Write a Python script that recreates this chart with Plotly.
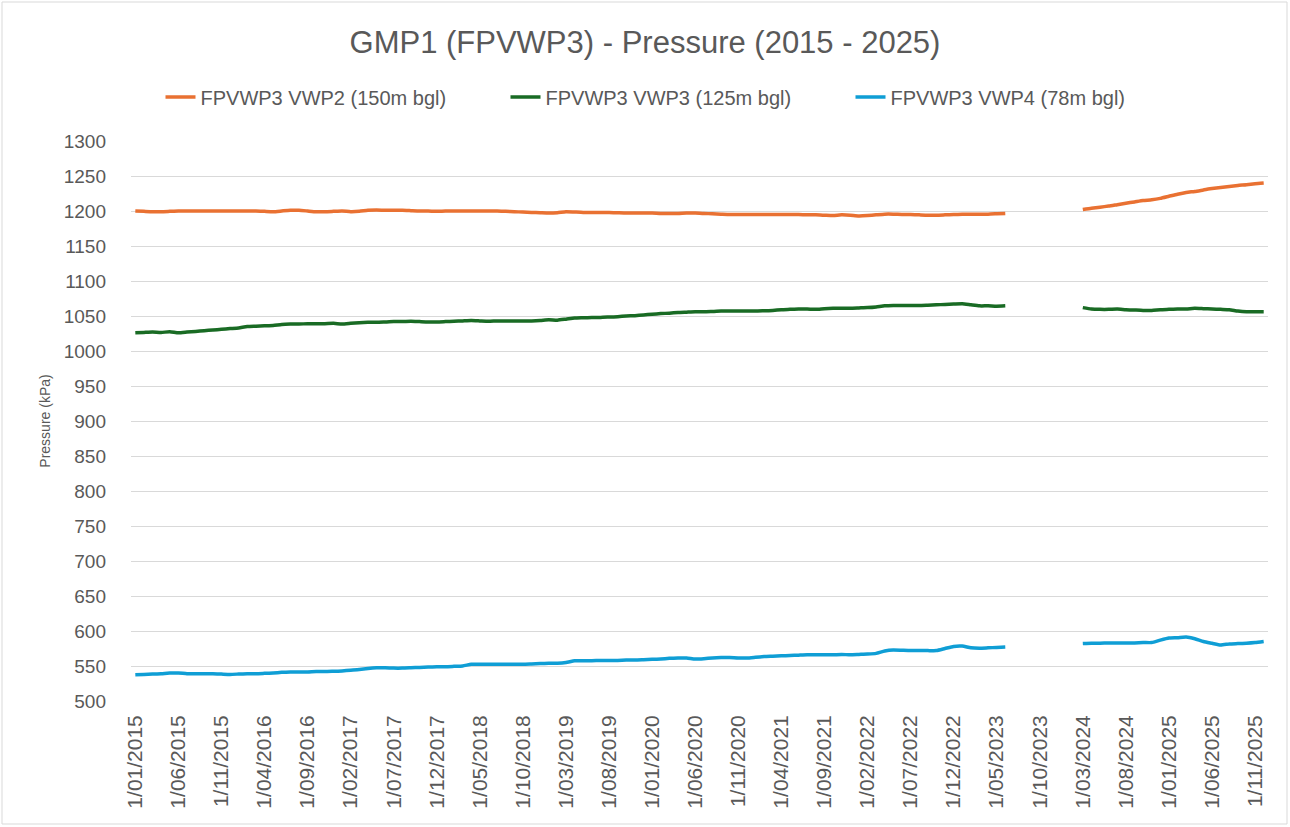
import plotly.graph_objects as go

# ---- data ----
months = []
for y in range(2015, 2026):
    for m in range(1, 13):
        months.append(f"1/{m:02d}/{y}")

tick_labels = months[::5]

vwp2_a = [1200, 1199.5, 1199, 1199, 1199.5, 1200, 1200, 1200, 1200, 1200,
          1200, 1200, 1200, 1200, 1200, 1199.5, 1199, 1200, 1201, 1201,
          1200, 1199, 1199, 1199.5, 1200, 1199, 1199.5, 1201, 1201.5, 1201,
          1201, 1201, 1200.5, 1200, 1200, 1199.5, 1200, 1200, 1200, 1200,
          1200, 1200, 1200, 1199.5, 1199, 1198.5, 1198, 1197.5, 1197, 1197.5,
          1199, 1198.5, 1198, 1198, 1198, 1198, 1197.5, 1197, 1197, 1197,
          1197, 1196.5, 1196.5, 1196.5, 1197, 1197, 1196.5, 1196, 1195.5, 1195,
          1195, 1195, 1195, 1195, 1195, 1195, 1195, 1195, 1194.5, 1194.5,
          1194, 1193.5, 1194.5, 1194, 1193, 1193.5, 1194.5, 1195.5, 1195.5, 1195,
          1195, 1194.5, 1194, 1194, 1194.5, 1195, 1195.5, 1195.5, 1195.5, 1195.5, 1196, 1196.5]
vwp2_b = [1202, 1204, 1205.5, 1207, 1209, 1211, 1213, 1215, 1216, 1218,
          1221, 1224, 1226.5, 1228, 1230, 1232, 1233.5, 1235, 1236.5, 1237.5,
          1239, 1240]

vwp3_a = [1026, 1026.5, 1027, 1026.5, 1027.5, 1026, 1027, 1028, 1029, 1030,
          1031, 1032, 1033, 1035, 1035.5, 1036, 1036.5, 1038, 1038.5, 1038.5,
          1039, 1039, 1039, 1039.5, 1038.5, 1039.5, 1040.5, 1041, 1041, 1041.5,
          1042, 1042, 1042.5, 1042, 1041.5, 1041.5, 1042, 1042.5, 1043, 1043.5,
          1043, 1042.5, 1043, 1043, 1043, 1043, 1043, 1043.5, 1044.5, 1044,
          1045.5, 1047, 1047.5, 1048, 1048, 1048.5, 1049, 1050, 1050.5, 1051.5,
          1052.5, 1053.5, 1054, 1055, 1055.5, 1056, 1056, 1056.5, 1057, 1057,
          1057, 1057, 1057, 1057.5, 1058, 1059, 1059.5, 1060, 1060, 1059.5,
          1060.5, 1061, 1061, 1061, 1061.5, 1062, 1063, 1064.5, 1065, 1065,
          1065, 1065, 1065.5, 1066, 1066.5, 1067, 1067.5, 1066, 1064.5, 1064.5, 1064, 1064.5]
vwp3_b = [1062, 1060, 1059.5, 1059.5, 1060, 1059, 1058.5, 1058, 1058, 1059,
          1059.5, 1060, 1060, 1061, 1060.5, 1060, 1059.5, 1059, 1057, 1056,
          1056, 1056]

vwp4_a = [537.5, 538, 538.5, 539, 540, 540, 539, 539, 539, 539,
          538.5, 538, 538.5, 539, 539, 539.5, 540, 541, 541.5, 541.5,
          541.5, 542, 542, 542.5, 543, 544, 545, 546.5, 547.5, 547.5,
          547, 547, 547.5, 548, 548.5, 549, 549, 549.5, 550, 552.5,
          552.5, 552.5, 552.5, 552.5, 552.5, 552.5, 553, 553.5, 554, 554,
          555, 557.5, 557.5, 557.5, 558, 558, 558, 558.5, 558.5, 559,
          559.5, 560, 561, 561.5, 561.5, 560, 560.5, 561.5, 562, 562,
          561.5, 561.5, 562.5, 563.5, 564, 564.5, 565, 565.5, 566, 566,
          566, 566, 566.5, 566, 566.5, 567, 568, 571.5, 573, 572.5,
          572, 572, 572, 572, 575, 578, 578.5, 576, 575.5, 576, 576.5, 577]
vwp4_b = [582, 582.5, 582.5, 583, 583, 583, 583, 583.5, 583.5, 587,
          590, 590.5, 591.5, 589, 585, 582.5, 580, 581.5, 582, 582.5,
          583.5, 585]

n_gap = len(months) - len(vwp2_a) - len(vwp2_b)
vwp2 = vwp2_a + [None] * n_gap + vwp2_b
vwp3 = vwp3_a + [None] * n_gap + vwp3_b
vwp4 = vwp4_a + [None] * n_gap + vwp4_b

series = [
    ("FPVWP3 VWP2 (150m bgl)", vwp2, "#E97132"),
    ("FPVWP3 VWP3 (125m bgl)", vwp3, "#196B24"),
    ("FPVWP3 VWP4 (78m bgl)", vwp4, "#0F9ED5"),
]

fig = go.Figure()
for name, vals, col in series:
    fig.add_trace(go.Scatter(
        x=months, y=vals, name=name, mode="lines",
        line=dict(color=col, width=3.5, shape="spline", smoothing=0.5),
        connectgaps=False,
    ))

W, H = 1290, 827
L, R, T, B = 131, 22, 141, 126
pw, ph = W - L - R, H - T - B

fig.update_layout(
    width=W, height=H,
    margin=dict(l=L, r=R, t=T, b=B, autoexpand=False),
    paper_bgcolor="white", plot_bgcolor="white",
    font=dict(family="Liberation Sans, Arial, sans-serif", color="#595959"),
    title=dict(text="GMP1 (FPVWP3) - Pressure (2015 - 2025)",
               x=0.5, xanchor="center", y=1 - 42 / H, yanchor="middle",
               font=dict(family="Liberation Sans, Arial", size=31, color="#595959")),
    legend=dict(orientation="h", x=0.5 + (678 - (L + pw / 2)) / pw, xanchor="center",
                y=1 + (T - 97) / ph, yanchor="middle",
                font=dict(family="Liberation Sans, Arial", size=20, color="#595959"),
                entrywidth=300, bgcolor="rgba(0,0,0,0)"),
    showlegend=True,
)

fig.update_xaxes(
    type="category", categoryorder="array", categoryarray=months,
    range=[-0.5, len(months) - 0.5], automargin=False,
    tickmode="array", tickvals=tick_labels, ticktext=tick_labels,
    tickangle=-90, tickfont=dict(size=21, color="#595959"),
    ticklabelstandoff=9,
    showgrid=False, showline=False, zeroline=False, ticks="",
)
fig.update_yaxes(
    range=[500, 1300], dtick=50, tick0=500, automargin=False,
    showgrid=True, gridcolor="#D9D9D9", gridwidth=1.3,
    zeroline=False, showline=False, ticks="",
    tickfont=dict(size=19, color="#595959"),
    ticklabelstandoff=24,
    title=dict(text="Pressure (kPa)", font=dict(size=14, color="#595959"), standoff=9),
)

# outer chart border
fig.add_shape(type="rect", xref="paper", yref="paper",
              x0=(2 - L) / pw, x1=(W - 3 - L) / pw,
              y0=-(H - 3 - T - ph) / ph, y1=1 + (T - 2) / ph,
              line=dict(color="#D9D9D9", width=1), fillcolor="rgba(0,0,0,0)", layer="below")

fig.write_html("out.html", config={"displayModeBar": False},
               post_script="document.body.style.margin='0';")
